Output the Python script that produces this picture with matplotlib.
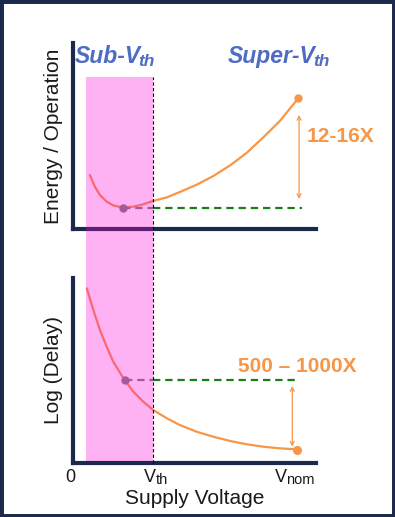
"""
Energy and delay versus supply voltage, sub- vs super-threshold
"""

import matplotlib.pyplot as plt
import matplotlib.transforms as mtransforms
from matplotlib.patches import Rectangle
from matplotlib.lines import Line2D

plt.rcParams['font.family'] = ['Liberation Sans', 'DejaVu Sans']

# ========== Data (voltage normalised, V_nom = 1) ==========
v_th = 0.354
v_nom = 1.0
v_sub_start = 0.0575

energy_v = [0.075, 0.097, 0.119, 0.149, 0.178, 0.220, 0.267, 0.311, 0.355,
            0.415, 0.473, 0.547, 0.621, 0.695, 0.769, 0.842, 0.916, 0.997]
energy = [0.290, 0.227, 0.183, 0.147, 0.127, 0.115, 0.120, 0.133, 0.151,
          0.170, 0.199, 0.238, 0.285, 0.342, 0.410, 0.493, 0.582, 0.703]
e_opt_v, e_opt = 0.220, 0.115

delay_v = [0.061, 0.090, 0.119, 0.149, 0.178, 0.223, 0.267, 0.311, 0.355,
           0.415, 0.473, 0.547, 0.621, 0.695, 0.769, 0.842, 0.916, 0.990]
delay = [0.944, 0.827, 0.719, 0.629, 0.548, 0.458, 0.385, 0.331, 0.286,
         0.242, 0.205, 0.169, 0.142, 0.119, 0.101, 0.088, 0.079, 0.074]
d_opt_v, d_opt = 0.230, 0.449
d_nom_v, d_nom = 0.992, 0.070

tick_pos = [0, v_th, v_nom]
tick_main = ['0', 'V', 'V']
tick_sub = ['', 'th', 'nom']

# ========== Style ==========
W, H = 395, 517
navy = '#1b2a4a'
orange = '#f79646'
blue = '#4f6cc4'
green = '#1a7f1a'
gray = '#808080'
ink = '#1a1a1a'
x_max = 1.075

fig = plt.figure(figsize=(W / 100, H / 100), dpi=100)


def px_box(l, t, r, b):
    return [l / W, 1 - b / H, (r - l) / W, (b - t) / H]


def get_axes(box):
    ax = fig.add_axes(px_box(*box))
    ax.set_xlim(0, x_max)
    ax.set_ylim(0, 1)
    for s in ('top', 'right'):
        ax.spines[s].set_visible(False)
    for s in ('left', 'bottom'):
        ax.spines[s].set_color(navy)
        ax.spines[s].set_linewidth(3)
    ax.set_yticks([])
    ax.set_xticks([])
    ax.patch.set_alpha(0)
    return ax


def add_sub(ax, txt, sub, size, dx=0):
    # small "subscript" sitting just below the baseline of txt
    if sub:
        ax.annotate(sub, xy=(1, 0), xycoords=txt, xytext=(dx, -1), textcoords='offset pixels',
                    va='bottom', ha='left', size=size, color=txt.get_color(),
                    weight=txt.get_weight(), style=txt.get_style(), annotation_clip=False)


ax1 = get_axes((73, 43, 316, 229))
ax2 = get_axes((73, 278, 316, 463))

dash = (3.3, 2.2)

# ---- energy ----
ax1.plot(energy_v, energy, color=orange, lw=1.6, solid_capstyle='round', solid_joinstyle='round')
ax1.plot([e_opt_v, v_th], [e_opt, e_opt], color=gray, lw=1.6, dashes=dash)
ax1.plot([v_th, 1.012], [e_opt, e_opt], color=green, lw=1.6, dashes=dash)
ax1.plot([e_opt_v], [e_opt], 'o', color=gray, ms=5)
ax1.plot([energy_v[-1]], [energy[-1]], 'o', color=orange, ms=5)
ax1.annotate('', xy=(1.0, 0.613), xytext=(1.0, 0.161),
             arrowprops=dict(arrowstyle='<->', color=orange, lw=0.9, mutation_scale=7,
                             shrinkA=0, shrinkB=0))
ax1.text(1.035, 0.495, '12-16X', color=orange, size=15, weight='bold', va='center',
         clip_on=False)
for x, main in ((0.009, 'Sub-V'), (0.686, 'Super-V')):
    t = ax1.text(x, 0.892, main, color=blue, size=16.5, weight='bold', style='italic',
                 va='baseline', clip_on=False)
    add_sub(ax1, t, 'th', 12.5, dx=-3)
ax1.set_ylabel('Energy / Operation', size=15, labelpad=7, color=ink)

# ---- delay ----
ax2.plot(delay_v, delay, color=orange, lw=1.6, solid_capstyle='round', solid_joinstyle='round')
ax2.plot([d_opt_v, v_th], [d_opt, d_opt], color=gray, lw=1.6, dashes=dash)
ax2.plot([v_th, 0.997], [d_opt, d_opt], color=green, lw=1.6, dashes=dash)
ax2.plot([d_opt_v], [d_opt], 'o', color=gray, ms=5)
ax2.plot([d_nom_v], [d_nom], 'o', color=orange, ms=5.5)
ax2.annotate('', xy=(0.970, 0.416), xytext=(0.970, 0.088),
             arrowprops=dict(arrowstyle='<->', color=orange, lw=0.9, mutation_scale=7,
                             shrinkA=0, shrinkB=0))
ax2.text(0.730, 0.524, '500 \u2013 1000X', color=orange, size=15, weight='bold',
         va='center', clip_on=False)
ax2.set_ylabel('Log (Delay)', size=15, labelpad=7, color=ink)

# x tick labels with small subscripts
tick_dx = [-3, -3.5, -18.5]
for pos, main, sub, dx in zip(tick_pos, tick_main, tick_sub, tick_dx):
    t = ax2.annotate(main, xy=(pos, 0), xycoords=ax2.get_xaxis_transform(),
                     xytext=(dx, -19), textcoords='offset pixels', ha='center',
                     va='baseline', size=13, color=ink, annotation_clip=False)
    add_sub(ax2, t, sub, 10.5)
ax2.set_xlabel('Supply Voltage', size=15, labelpad=19, color=ink)

# ---- sub-threshold band and V_th marker, spanning both panels ----
trans = mtransforms.blended_transform_factory(ax1.transData, fig.transFigure)
fig.add_artist(Line2D([v_th, v_th], [1 - 463 / H, 1 - 77 / H], transform=trans,
                      color='black', lw=0.8, dashes=(3, 2), zorder=4))
fig.add_artist(Rectangle((v_sub_start, 1 - 461 / H), v_th - v_sub_start, (461 - 77) / H,
                         transform=trans, facecolor='#ff00d8', alpha=0.3,
                         edgecolor='none', zorder=5))

# ---- slide border ----
fig.add_artist(Rectangle((0, 0), 1, 1, transform=fig.transFigure, facecolor='none',
                         edgecolor=navy, lw=5, zorder=10))

plt.savefig('out.png', dpi=100)
